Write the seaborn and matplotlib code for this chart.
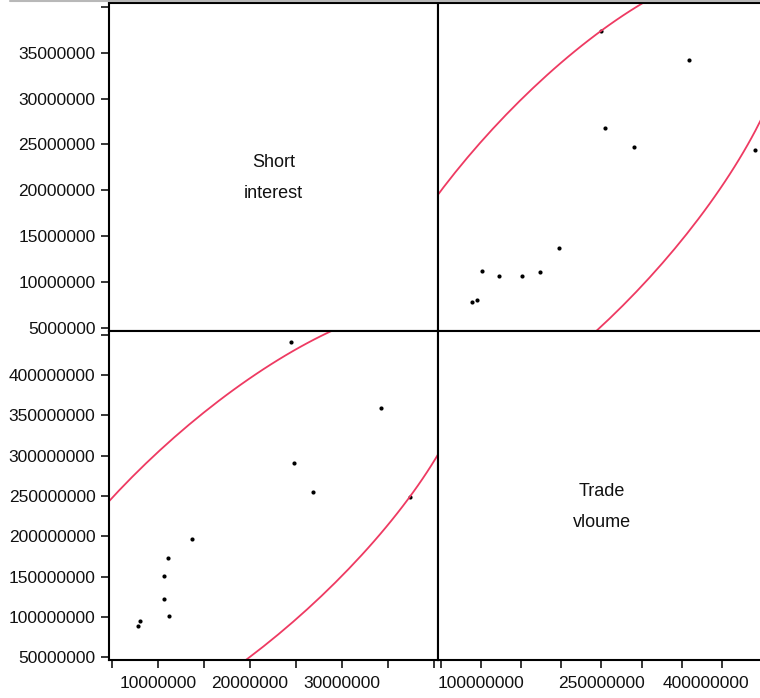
import numpy as np
import seaborn as sns
import matplotlib.pyplot as plt
from matplotlib.lines import Line2D
from matplotlib.transforms import ScaledTranslation

sns.set_style('white')
plt.rcParams['font.family'] = ['Liberation Sans', 'DejaVu Sans']

# data
short_interest = [24400000, 34200000, 24750000, 26800000, 37400000, 13700000,
                  11100000, 10700000, 10700000, 11250000, 8100000, 7900000]
trade_volume = [441000000, 359000000, 291000000, 254500000, 249000000, 197000000,
                173000000, 151000000, 123000000, 101000000, 95000000, 89000000]

si_ticks = [5000000, 10000000, 15000000, 20000000, 25000000, 30000000, 35000000, 40000000]
si_ylabels = ['5000000', '10000000', '15000000', '20000000', '25000000', '30000000', '35000000', '']
si_xlabels = ['', '10000000', '', '20000000', '', '30000000', '', '']
tv_ticks = [50000000, 100000000, 150000000, 200000000, 250000000, 300000000,
            350000000, 400000000, 450000000]
tv_ylabels = ['50000000', '100000000', '150000000', '200000000', '250000000',
              '300000000', '350000000', '400000000', '']
tv_xlabels = ['', '100000000', '', '', '250000000', '', '', '400000000', '']

si_lim = (4.7e6, 40.4e6)
tv_lim = (46.8e6, 454.5e6)
red = '#EE3A62'
fs = 12.5


def ellipse(x, y, c=2.4477, n=200):
    # bivariate normal density ellipse
    x = np.asarray(x, float)
    y = np.asarray(y, float)
    cov = np.cov(x, y)
    L = np.linalg.cholesky(cov)
    t = np.linspace(0, 2 * np.pi, n)
    pts = L @ np.vstack([np.cos(t), np.sin(t)]) * c
    return x.mean() + pts[0], y.mean() + pts[1]


fig = plt.figure(figsize=(7.6, 6.98), dpi=100)
W, H = 760, 698


def add_ax(x0, y0, x1, y1):
    return fig.add_axes([x0 / W, 1 - y1 / H, (x1 - x0) / W, (y1 - y0) / H])


ax_tl = add_ax(109, 3, 438, 331)
ax_tr = add_ax(438, 3, 766, 331)
ax_bl = add_ax(109, 331, 438, 660)
ax_br = add_ax(438, 331, 766, 660)

for ax in [ax_tl, ax_tr, ax_bl, ax_br]:
    ax.set_facecolor('white')
    for s in ax.spines.values():
        s.set_visible(True)
        s.set_color('black')
        s.set_linewidth(1.5)
    ax.tick_params(length=5.8, width=1.1, color='black', labelsize=fs,
                   labelcolor='#111111', direction='out', pad=4)
    ax.set_xticks([])
    ax.set_yticks([])

# top-right: x = trade volume, y = short interest
sns.scatterplot(x=trade_volume, y=short_interest, ax=ax_tr, color='black',
                s=9, linewidth=0, legend=False)
ex, ey = ellipse(trade_volume, short_interest)
ax_tr.plot(ex, ey, color=red, lw=1.3)
ax_tr.set_xlim(tv_lim)
ax_tr.set_ylim(si_lim)
ax_tr.set_xticks([])
ax_tr.set_yticks([])
ax_tr.set_xlabel('')
ax_tr.set_ylabel('')

# bottom-left: x = short interest, y = trade volume
sns.scatterplot(x=short_interest, y=trade_volume, ax=ax_bl, color='black',
                s=9, linewidth=0, legend=False)
ex, ey = ellipse(short_interest, trade_volume)
ax_bl.plot(ex, ey, color=red, lw=1.3)
ax_bl.set_xlim(si_lim)
ax_bl.set_ylim(tv_lim)
ax_bl.set_xticks(si_ticks)
ax_bl.set_xticklabels(si_xlabels)
ax_bl.set_yticks(tv_ticks)
ax_bl.set_yticklabels(tv_ylabels)
ax_bl.tick_params(axis='x', pad=6, bottom=True)
ax_bl.tick_params(axis='y', left=True)
ax_bl.set_xlabel('')
ax_bl.set_ylabel('')

# diagonal panels
ax_tl.set_xlim(si_lim)
ax_tl.set_ylim(si_lim)
ax_tl.set_yticks(si_ticks)
ax_tl.set_yticklabels(si_ylabels)
ax_tl.tick_params(axis='y', left=True)
ax_tl.text(0.5, 0.466, 'Short\ninterest', transform=ax_tl.transAxes, ha='center',
           va='center', fontsize=13, linespacing=2.1, color='#111111')

ax_br.set_xlim(tv_lim)
ax_br.set_ylim(tv_lim)
ax_br.set_xticks(tv_ticks)
ax_br.set_xticklabels(tv_xlabels)
ax_br.tick_params(axis='x', pad=6, bottom=True)
ax_br.text(0.5, 0.465, 'Trade\nvloume', transform=ax_br.transAxes, ha='center',
           va='center', fontsize=13, linespacing=2.1, color='#111111')

# last label is pushed left so it stays inside the picture
last = ax_br.get_xticklabels()[7]
last.set_transform(last.get_transform() + ScaledTranslation(-16 / 100, 0, fig.dpi_scale_trans))

# thin grey frame line at the very top
fig.add_artist(Line2D([10 / W, 1], [1 - 0.8 / H, 1 - 0.8 / H], color='#b8b8b8', lw=1.5))

fig.savefig('out.png', dpi=100)
